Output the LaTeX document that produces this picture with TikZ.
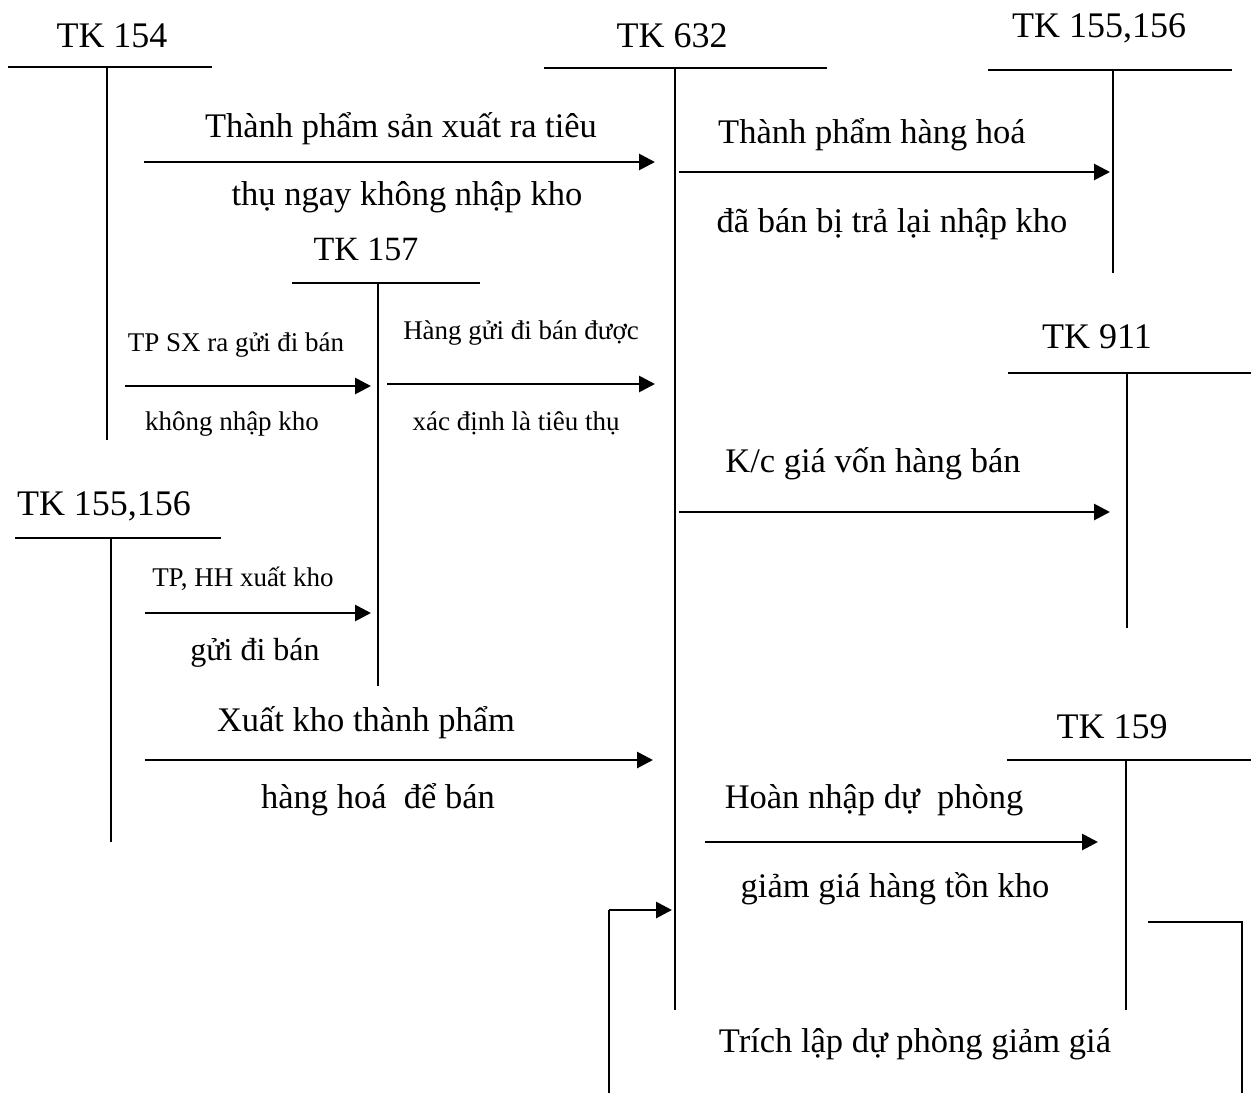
\documentclass[tikz,border=0pt]{standalone}
\usepackage{fontspec}
\setmainfont{Liberation Serif}
\usetikzlibrary{arrows.meta}
\begin{document}
\begin{tikzpicture}[x=1pt,y=-1pt,
  acct/.style={line width=1.7pt},
  flow/.style={line width=2.8pt,-{Triangle[length=16pt,width=16pt]}},
  wire/.style={line width=2pt},
  head/.style={anchor=base,inner sep=0pt,font=\fontsize{36}{40}\selectfont},
  lbl/.style={anchor=base,inner sep=0pt,font=\fontsize{34.5}{40}\selectfont},
  small/.style={anchor=base,inner sep=0pt,font=\fontsize{27}{32}\selectfont}]
\useasboundingbox[fill=white] (0,0) rectangle (1251,1093);

% T-accounts
\node[head] (h154) at (112,47) {TK 154};
\draw[acct] (8,67) -- (212,67);
\coordinate (t154) at (107,67); \coordinate (b154) at (107,440);
\draw[acct] (t154) -- (b154);

\node[head] (h632) at (672,47) {TK 632};
\draw[acct] (544,68) -- (827,68);
\coordinate (t632) at (675,68); \coordinate (b632) at (675,1010);
\draw[acct] (t632) -- (b632);

\node[head] (h155r) at (1099,37) {TK 155,156};
\draw[acct] (988,70) -- (1232,70);
\coordinate (t155r) at (1113,70); \coordinate (b155r) at (1113,273);
\draw[acct] (t155r) -- (b155r);

\node[head,font=\fontsize{34}{40}\selectfont] (h157) at (366,260) {TK 157};
\draw[acct] (292,283) -- (480,283);
\coordinate (t157) at (378,283); \coordinate (b157) at (378,686);
\draw[acct] (t157) -- (b157);

\node[head] (h911) at (1097,348) {TK 911};
\draw[acct] (1008,373) -- (1251,373);
\coordinate (t911) at (1127,373); \coordinate (b911) at (1127,628);
\draw[acct] (t911) -- (b911);

\node[head] (h155l) at (104,515) {TK 155,156};
\draw[acct] (15,538) -- (221,538);
\coordinate (t155l) at (111,538); \coordinate (b155l) at (111,842);
\draw[acct] (t155l) -- (b155l);

\node[head] (h159) at (1112,738) {TK 159};
\draw[acct] (1007,760) -- (1251,760);
\coordinate (t159) at (1126,760); \coordinate (b159) at (1126,1010);
\draw[acct] (t159) -- (b159);

% Flows
\coordinate (a1s) at (144,162); \coordinate (a1e) at (655,162);
\draw[flow] (a1s) -- (a1e);
\node[lbl] (l1a) at (401,137) {Thành phẩm sản xuất ra tiêu};
\node[lbl] (l1b) at (407,205) {thụ ngay không nhập kho};

\coordinate (a2s) at (679,172); \coordinate (a2e) at (1110,172);
\draw[flow] (a2s) -- (a2e);
\node[lbl] (l2a) at (872,143) {Thành phẩm hàng hoá};
\node[lbl] (l2b) at (892,232) {đã bán bị trả lại nhập kho};

\coordinate (a3s) at (125,386); \coordinate (a3e) at (371,386);
\draw[flow] (a3s) -- (a3e);
\node[small] (l3a) at (236,351) {TP SX ra gửi đi bán};
\node[small] (l3b) at (232,430) {không nhập kho};

\coordinate (a4s) at (387,384); \coordinate (a4e) at (655,384);
\draw[flow] (a4s) -- (a4e);
\node[small] (l4a) at (521,339) {Hàng gửi đi bán được};
\node[small] (l4b) at (516,430) {xác định là tiêu thụ};

\coordinate (a5s) at (145,613); \coordinate (a5e) at (371,613);
\draw[flow] (a5s) -- (a5e);
\node[small] (l5a) at (243,586) {TP, HH xuất kho};
\node[lbl,font=\fontsize{32}{38}\selectfont] (l5b) at (255,660) {gửi đi bán};

\coordinate (a6s) at (679,512); \coordinate (a6e) at (1110,512);
\draw[flow] (a6s) -- (a6e);
\node[lbl] (l6a) at (873,472) {K/c giá vốn hàng bán};

\coordinate (a7s) at (145,760); \coordinate (a7e) at (653,760);
\draw[flow] (a7s) -- (a7e);
\node[lbl] (l7a) at (366,731) {Xuất kho thành phẩm};
\node[lbl] (l7b) at (378,808) {hàng hoá\ \ để bán};

\coordinate (a8s) at (705,842); \coordinate (a8e) at (1098,842);
\draw[flow] (a8s) -- (a8e);
\node[lbl] (l8a) at (874,808) {Hoàn nhập dự\ \ phòng};
\node[lbl] (l8b) at (895,897) {giảm giá hàng tồn kho};

% Provision bracket
\coordinate (r1) at (1148,922); \coordinate (r2) at (1242,922); \coordinate (r3) at (1242,1093);
\draw[wire] (r1) -- (r2) -- (r3);
\coordinate (p1) at (609,1093); \coordinate (p2) at (609,910); \coordinate (p3) at (672,910);
\draw[wire] (p1) -- (p2);
\draw[flow] (p2) -- (p3);
\node[lbl] (l9) at (915,1052) {Trích lập dự phòng giảm giá};
\end{tikzpicture}
\end{document}
